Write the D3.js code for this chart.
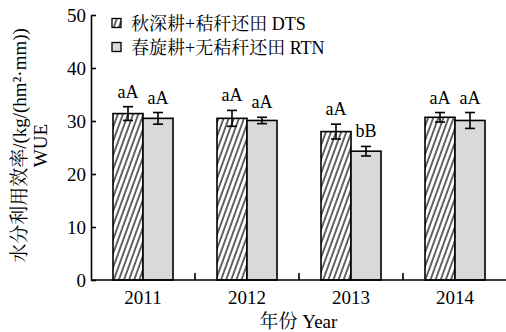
<!DOCTYPE html>
<html>
<head>
<meta charset="utf-8">
<script src="https://cdn.jsdelivr.net/npm/d3@7"></script>
<style>
  html, body { margin: 0; padding: 0; background: #fff; }
  svg { display: block; }
  text { font-family: "Liberation Serif", "Times New Roman", "Noto Serif CJK SC", "Noto Sans CJK SC", serif; fill: #000; }
</style>
</head>
<body>
<svg id="chart" width="506" height="332"></svg>
<script>
// Water use efficiency by year for two tillage treatments
const years = ["2011", "2012", "2013", "2014"];
const seriesNames = ["秋深耕+秸秆还田 DTS", "春旋耕+无秸秆还田 RTN"];
const dtsMean = [31.4, 30.5, 28.0, 30.7];
const dtsErr = [1.3, 1.5, 1.4, 0.9];
const rtnMean = [30.5, 30.1, 24.3, 30.1];
const rtnErr = [1.1, 0.6, 0.9, 1.5];
const dtsSig = ["aA", "aA", "aA", "aA"];
const rtnSig = ["aA", "aA", "bB", "aA"];
const yTicks = [0, 10, 20, 30, 40, 50];

const svg = d3.select("#chart");
const plotLeft = 91, plotRight = 507, plotTop = 15, plotBottom = 280;
const sw = 1.6;

const x = d3.scaleBand().domain(years).range([plotLeft, plotRight]).padding(0);
const inner = d3.scaleBand().domain(["DTS", "RTN"])
  .range([x.bandwidth() / 2 - 30, x.bandwidth() / 2 + 30]).padding(0);
const y = d3.scaleLinear().domain([0, 50]).range([plotBottom, plotTop]);

// hatch pattern for the DTS bars
const defs = svg.append("defs");
defs.append("pattern")
  .attr("id", "hatch")
  .attr("patternUnits", "userSpaceOnUse")
  .attr("width", 4.8).attr("height", 10)
  .attr("patternTransform", "rotate(20)")
  .append("line")
  .attr("x1", 1).attr("y1", 0).attr("x2", 1).attr("y2", 10)
  .attr("stroke", "#000").attr("stroke-width", 1.2);

const rows = years.map((yr, i) => ([
  { year: yr, key: "DTS", mean: dtsMean[i], err: dtsErr[i], sig: dtsSig[i] },
  { year: yr, key: "RTN", mean: rtnMean[i], err: rtnErr[i], sig: rtnSig[i] }
])).flat();

const fillOf = k => k === "DTS" ? "url(#hatch)" : "#d9d9d9";

// bars: solid base, then pattern fill with outline
svg.append("g").selectAll("rect").data(rows).join("rect")
  .attr("x", d => x(d.year) + inner(d.key))
  .attr("y", d => y(d.mean))
  .attr("width", inner.bandwidth())
  .attr("height", d => y(0) - y(d.mean))
  .attr("fill", d => d.key === "DTS" ? "#fff" : "#d9d9d9");
svg.append("g").selectAll("rect").data(rows).join("rect")
  .attr("x", d => x(d.year) + inner(d.key))
  .attr("y", d => y(d.mean))
  .attr("width", inner.bandwidth())
  .attr("height", d => y(0) - y(d.mean))
  .attr("fill", d => fillOf(d.key))
  .attr("stroke", "#000").attr("stroke-width", sw);

// error bars
const eb = svg.append("g").attr("stroke", "#000").attr("stroke-width", sw);
rows.forEach(d => {
  const cx = x(d.year) + inner(d.key) + inner.bandwidth() / 2;
  const y1 = y(d.mean + d.err), y2 = y(d.mean - d.err);
  eb.append("line").attr("x1", cx).attr("x2", cx).attr("y1", y1).attr("y2", y2);
  eb.append("line").attr("x1", cx - 5).attr("x2", cx + 5).attr("y1", y1).attr("y2", y1);
  eb.append("line").attr("x1", cx - 5).attr("x2", cx + 5).attr("y1", y2).attr("y2", y2);
});

// significance letters
svg.append("g").selectAll("text").data(rows).join("text")
  .attr("x", d => x(d.year) + inner(d.key) + inner.bandwidth() / 2)
  .attr("y", d => y(d.mean + d.err) - 9)
  .attr("text-anchor", "middle")
  .attr("font-size", 18)
  .text(d => d.sig);

// y axis
const yAxis = d3.axisLeft(y).tickValues(yTicks).tickSizeInner(-5).tickSizeOuter(0).tickPadding(5);
const gy = svg.append("g").attr("transform", `translate(${plotLeft},0)`).call(yAxis);
gy.select(".domain").attr("stroke-width", sw);
gy.selectAll(".tick line").attr("stroke-width", sw);
gy.selectAll(".tick text").attr("font-size", 19).attr("font-family", null);

// x axis: baseline, separators between groups, year labels
svg.append("line")
  .attr("x1", plotLeft).attr("x2", 506).attr("y1", plotBottom).attr("y2", plotBottom)
  .attr("stroke", "#000").attr("stroke-width", sw);
svg.append("g").selectAll("line").data(years.slice(1)).join("line")
  .attr("x1", d => x(d)).attr("x2", d => x(d))
  .attr("y1", plotBottom).attr("y2", plotBottom - 7)
  .attr("stroke", "#000").attr("stroke-width", sw);
svg.append("g").selectAll("text").data(years).join("text")
  .attr("x", d => x(d) + x.bandwidth() / 2)
  .attr("y", 304)
  .attr("text-anchor", "middle")
  .attr("font-size", 19)
  .text(d => d);

svg.append("text")
  .attr("x", (plotLeft + 506) / 2).attr("y", 328)
  .attr("text-anchor", "middle").attr("font-size", 19)
  .text("年份 Year");

// y axis title
const yt = svg.append("text")
  .attr("transform", `translate(26,${(plotTop + plotBottom) / 2 - 2}) rotate(-90)`)
  .attr("text-anchor", "middle").attr("font-size", 19);
yt.append("tspan").attr("x", 0).attr("y", 0).text("水分利用效率/(kg/(hm²·mm))");
yt.append("tspan").attr("x", 0).attr("y", 21).text("WUE");

// legend
const legend = svg.append("g");
["DTS", "RTN"].forEach((k, i) => {
  const cy = 23 + i * 24;
  legend.append("rect").attr("x", 112).attr("y", cy - 4.5).attr("width", 9).attr("height", 9)
    .attr("fill", k === "DTS" ? "#fff" : "#d9d9d9");
  legend.append("rect").attr("x", 112).attr("y", cy - 4.5).attr("width", 9).attr("height", 9)
    .attr("fill", fillOf(k)).attr("stroke", "#000").attr("stroke-width", 1.3);
  legend.append("text").attr("x", 131).attr("y", cy + 6.5)
    .attr("font-size", 18).text(seriesNames[i]);
});
</script>
</body>
</html>
